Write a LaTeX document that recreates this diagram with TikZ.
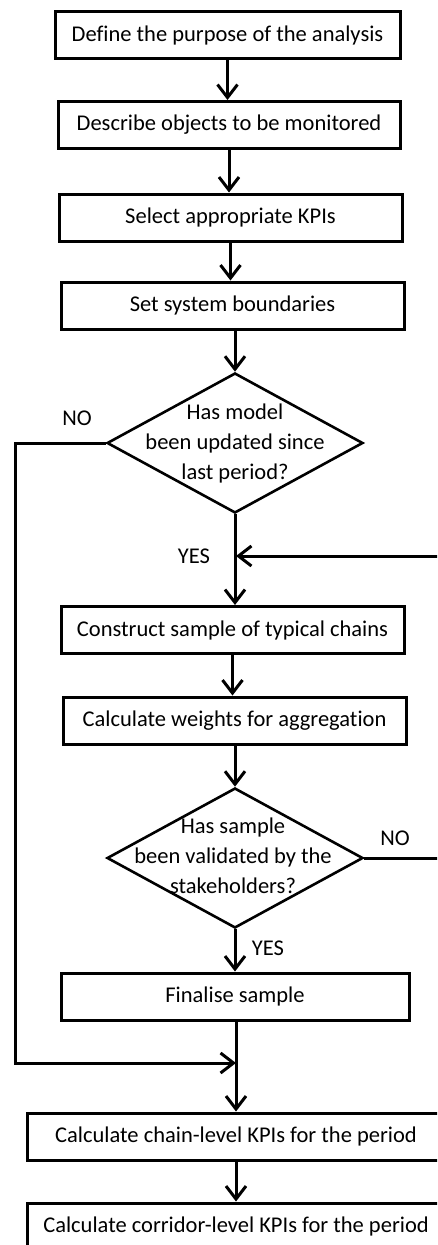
\documentclass[tikz,border=0pt]{standalone}
\usepackage{fontspec}
\setmainfont{Carlito}[Ligatures={NoCommon}]
\usetikzlibrary{shapes.geometric,arrows.meta}
\begin{document}
\begin{tikzpicture}[x=1pt,y=-1pt,line width=3pt,
  txt/.style={font=\fontsize{22.5}{30}\selectfont},
  box/.style={draw, rectangle, txt, minimum height=47pt, inner sep=0pt},
  decision/.style={draw, diamond, minimum width=256pt, minimum height=140pt, inner sep=0pt, line width=2.6pt},
  dtext/.style={txt, align=center, inner sep=0pt},
  lbl/.style={txt, inner sep=0pt},
  arr/.style={-{Straight Barb[length=13pt,width=20pt]}}]
\clip (0,0) rectangle (437,1245);
\fill[white] (0,0) rectangle (437,1245);
\node[box, minimum width=345pt] (b1) at (227.5,35) {Define the purpose of the analysis};
\node[box, minimum width=342pt] (b2) at (229,125) {Describe objects to be monitored};
\node[box, minimum width=343pt] (b3) at (230.5,217.5) {Select appropriate KPIs};
\node[box, minimum width=343pt] (b4) at (232.5,305.5) {Set system boundaries};
\node[decision] (d1) at (235,443) {};
\node[dtext] (d1t) at (235,443) {Has model\\been updated since\\last period?};
\node[box, minimum width=343pt] (b5) at (232.5,630) {Construct sample of typical chains};
\node[box, minimum width=343pt] (b6) at (234.5,720.5) {Calculate weights for aggregation};
\node[decision] (d2) at (235,858) {};
\node[dtext] (d2t) at (233,856) {Has sample\\been validated by the\\stakeholders?};
\node[box, minimum width=348pt] (b7) at (235,996.5) {Finalise sample};
\node[box, minimum width=418pt] (b8) at (236,1136.5) {Calculate chain-level KPIs for the period};
\node[box, minimum width=418pt] (b9) at (236,1226.5) {Calculate corridor-level KPIs for the period};
\node[lbl] (no1) at (77,418) {NO};
\node[lbl] (yes1) at (194,556) {YES};
\node[lbl] (no2) at (395,838) {NO};
\node[lbl] (yes2) at (268,948) {YES};
\coordinate (j1) at (236,556);
\coordinate (j2) at (236,1063);
\draw[arr] (b1.south) -- (b1.south |- b2.north);
\draw[arr] (b2.south) -- (b2.south |- b3.north);
\draw[arr] (b3.south) -- (b3.south |- b4.north);
\draw[arr] (b4.south -| d1.north) -- (d1.north);
\draw[arr] (d1.south) -- (d1.south |- b5.north);
\draw[arr] (b5.south) -- (b5.south |- b6.north);
\draw[arr] (b6.south -| d2.north) -- (d2.north);
\draw[arr] (d2.south) -- (d2.south |- b7.north);
\draw[arr] (b7.south -| j2) -- (j2 |- b8.north);
\draw[arr] (b8.south -| j2) -- (j2 |- b9.north);
\draw[arr] (d2.east) -- (441,858) -- (441,556) -- (j1);
\draw[arr] (d1.west) -- (15,443) -- (15,1063) -- (j2);
\end{tikzpicture}
\end{document}
